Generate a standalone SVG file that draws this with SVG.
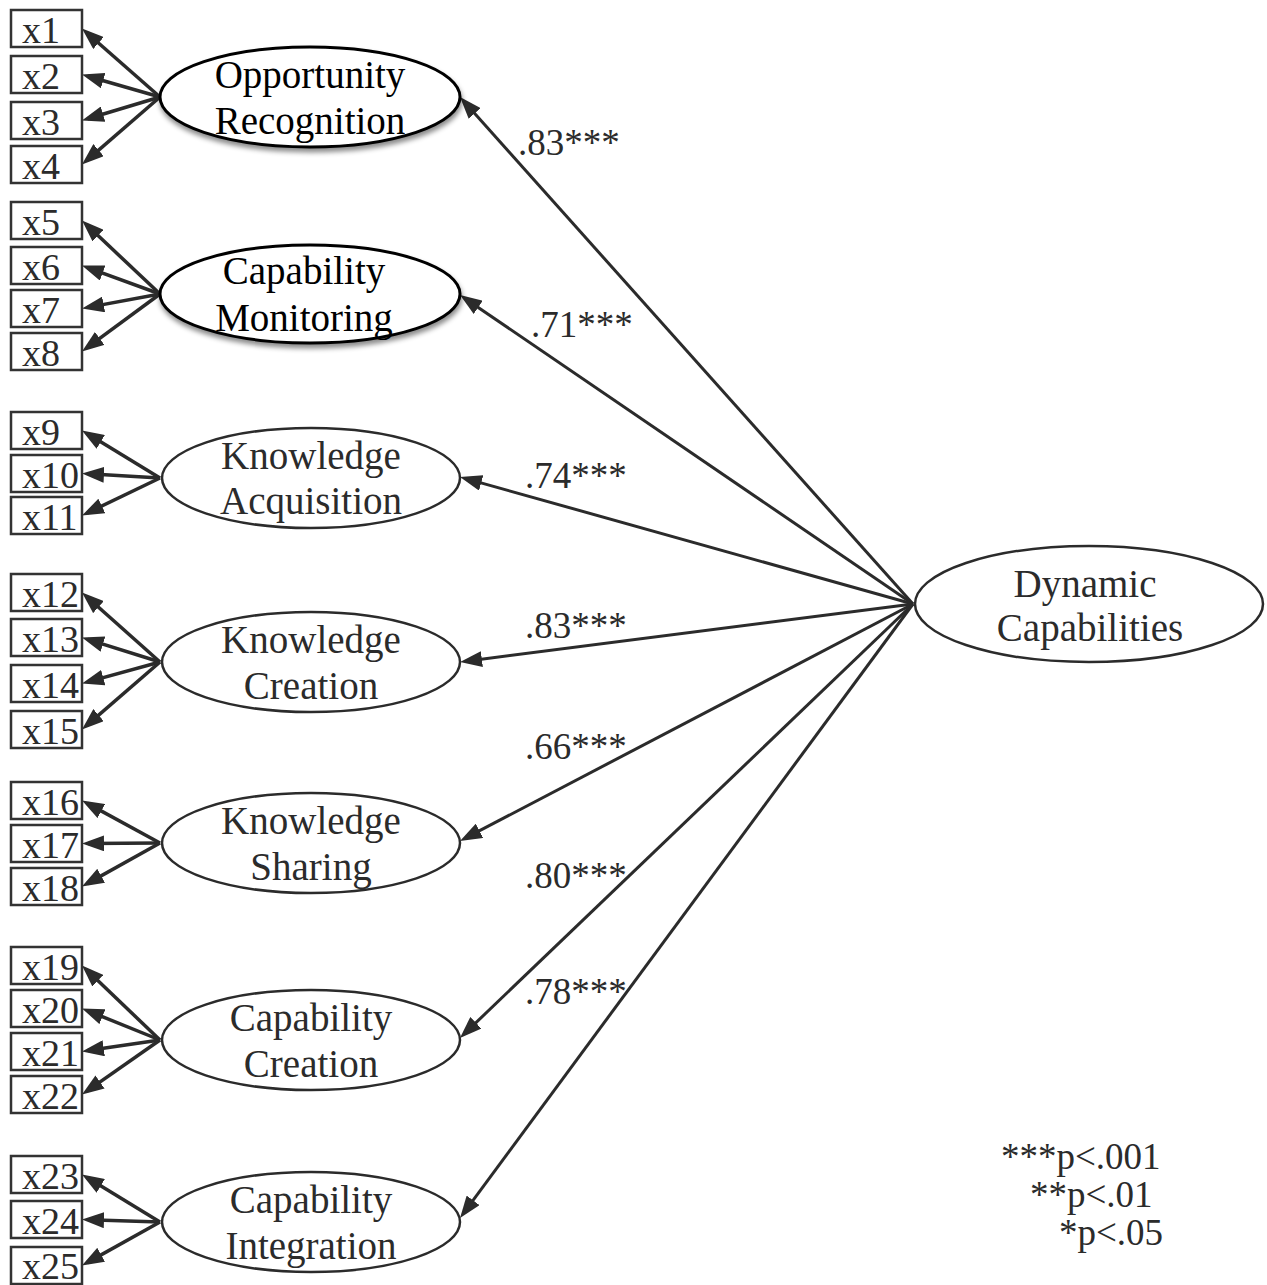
<svg xmlns="http://www.w3.org/2000/svg" width="1267" height="1285" viewBox="0 0 1267 1285">
<defs>
<marker id="ah" markerUnits="userSpaceOnUse" markerWidth="22" markerHeight="16" viewBox="0 0 22 16" refX="16" refY="8" orient="auto">
<path d="M0,0 L22,8 L0,16 z" fill="#2b2b2b"/>
</marker>
<filter id="sh" x="-10%" y="-20%" width="120%" height="150%">
<feDropShadow dx="1" dy="4" stdDeviation="2.5" flood-color="#000" flood-opacity="0.45"/>
</filter>
</defs>
<style>
text{font-family:"Liberation Serif","Times New Roman",serif;fill:#2b2b2b}
.box{fill:#fff;stroke:#333;stroke-width:2.5}
.xl{font-size:38px}
.lat{fill:#fff;stroke:#2b2b2b;stroke-width:2.5}
.latb{fill:#fff;stroke:#000;stroke-width:3;filter:url(#sh)}
.nl{font-size:39px;text-anchor:middle}
.nlb{fill:#000}
.ind{stroke:#2b2b2b;stroke-width:3.5;fill:none;marker-end:url(#ah)}
.dc{stroke:#2b2b2b;stroke-width:3;fill:none;marker-end:url(#ah)}
.lb{font-size:37px}
</style>
<rect width="1267" height="1285" fill="#fff"/>
<g id="connectors">
<line class="ind" x1="160" y1="97" x2="86.5" y2="32.5"/>
<line class="ind" x1="160" y1="97" x2="87.8" y2="76.2"/>
<line class="ind" x1="160" y1="97" x2="87.7" y2="118.8"/>
<line class="ind" x1="160" y1="97" x2="86.5" y2="160.6"/>
<line class="ind" x1="160" y1="294" x2="86.4" y2="224.6"/>
<line class="ind" x1="160" y1="294" x2="87.6" y2="267.6"/>
<line class="ind" x1="160" y1="294" x2="87.9" y2="307.4"/>
<line class="ind" x1="160" y1="294" x2="86.8" y2="347.9"/>
<line class="ind" x1="160" y1="478" x2="87.1" y2="433.6"/>
<line class="ind" x1="160" y1="478" x2="88.0" y2="473.8"/>
<line class="ind" x1="160" y1="478" x2="87.4" y2="512.9"/>
<line class="ind" x1="160" y1="662" x2="86.5" y2="596.5"/>
<line class="ind" x1="160" y1="662" x2="87.7" y2="639.3"/>
<line class="ind" x1="160" y1="662" x2="87.8" y2="681.9"/>
<line class="ind" x1="160" y1="662" x2="86.5" y2="725.6"/>
<line class="ind" x1="160" y1="843" x2="87.3" y2="803.4"/>
<line class="ind" x1="160" y1="843" x2="88" y2="843.5"/>
<line class="ind" x1="160" y1="843" x2="87.2" y2="883.6"/>
<line class="ind" x1="160" y1="1040" x2="86.3" y2="969.6"/>
<line class="ind" x1="160" y1="1040" x2="87.6" y2="1010.7"/>
<line class="ind" x1="160" y1="1040" x2="87.9" y2="1050.6"/>
<line class="ind" x1="160" y1="1040" x2="86.9" y2="1091.1"/>
<line class="ind" x1="160" y1="1222" x2="87.1" y2="1177.6"/>
<line class="ind" x1="160" y1="1222" x2="88" y2="1219.7"/>
<line class="ind" x1="160" y1="1222" x2="87.2" y2="1262.6"/>
<line class="dc" x1="913" y1="604" x2="464.0" y2="101.5"/>
<line class="dc" x1="913" y1="604" x2="465.0" y2="298.4"/>
<line class="dc" x1="913" y1="604" x2="465.8" y2="478.6"/>
<line class="dc" x1="913" y1="604" x2="466.0" y2="661.2"/>
<line class="dc" x1="913" y1="604" x2="465.3" y2="838.2"/>
<line class="dc" x1="913" y1="604" x2="464.3" y2="1033.8"/>
<line class="dc" x1="913" y1="604" x2="463.6" y2="1213.2"/>
<text class="lb" x="518" y="155">.83***</text>
<text class="lb" x="531" y="337">.71***</text>
<text class="lb" x="525" y="488">.74***</text>
<text class="lb" x="525" y="638">.83***</text>
<text class="lb" x="525" y="759">.66***</text>
<text class="lb" x="525" y="888">.80***</text>
<text class="lb" x="525" y="1004">.78***</text>
</g>
<g id="x1"><rect class="box" x="11" y="10" width="71" height="37"/><text class="xl" x="22" y="43">x1</text></g>
<g id="x2"><rect class="box" x="11" y="56" width="71" height="37"/><text class="xl" x="22" y="89">x2</text></g>
<g id="x3"><rect class="box" x="11" y="102" width="71" height="37"/><text class="xl" x="22" y="135">x3</text></g>
<g id="x4"><rect class="box" x="11" y="146" width="71" height="37"/><text class="xl" x="22" y="179">x4</text></g>
<g id="x5"><rect class="box" x="11" y="202" width="71" height="37"/><text class="xl" x="22" y="235">x5</text></g>
<g id="x6"><rect class="box" x="11" y="247" width="71" height="37"/><text class="xl" x="22" y="280">x6</text></g>
<g id="x7"><rect class="box" x="11" y="290" width="71" height="37"/><text class="xl" x="22" y="323">x7</text></g>
<g id="x8"><rect class="box" x="11" y="333" width="71" height="37"/><text class="xl" x="22" y="366">x8</text></g>
<g id="x9"><rect class="box" x="11" y="412" width="71" height="37"/><text class="xl" x="22" y="445">x9</text></g>
<g id="x10"><rect class="box" x="11" y="455" width="71" height="37"/><text class="xl" x="22" y="488">x10</text></g>
<g id="x11"><rect class="box" x="11" y="497" width="71" height="37"/><text class="xl" x="22" y="530">x11</text></g>
<g id="x12"><rect class="box" x="11" y="574" width="71" height="37"/><text class="xl" x="22" y="607">x12</text></g>
<g id="x13"><rect class="box" x="11" y="619" width="71" height="37"/><text class="xl" x="22" y="652">x13</text></g>
<g id="x14"><rect class="box" x="11" y="665" width="71" height="37"/><text class="xl" x="22" y="698">x14</text></g>
<g id="x15"><rect class="box" x="11" y="711" width="71" height="37"/><text class="xl" x="22" y="744">x15</text></g>
<g id="x16"><rect class="box" x="11" y="782" width="71" height="37"/><text class="xl" x="22" y="815">x16</text></g>
<g id="x17"><rect class="box" x="11" y="825" width="71" height="37"/><text class="xl" x="22" y="858">x17</text></g>
<g id="x18"><rect class="box" x="11" y="868" width="71" height="37"/><text class="xl" x="22" y="901">x18</text></g>
<g id="x19"><rect class="box" x="11" y="947" width="71" height="37"/><text class="xl" x="22" y="980">x19</text></g>
<g id="x20"><rect class="box" x="11" y="990" width="71" height="37"/><text class="xl" x="22" y="1023">x20</text></g>
<g id="x21"><rect class="box" x="11" y="1033" width="71" height="37"/><text class="xl" x="22" y="1066">x21</text></g>
<g id="x22"><rect class="box" x="11" y="1076" width="71" height="37"/><text class="xl" x="22" y="1109">x22</text></g>
<g id="x23"><rect class="box" x="11" y="1156" width="71" height="37"/><text class="xl" x="22" y="1189">x23</text></g>
<g id="x24"><rect class="box" x="11" y="1201" width="71" height="37"/><text class="xl" x="22" y="1234">x24</text></g>
<g id="x25"><rect class="box" x="11" y="1247" width="71" height="37"/><text class="xl" x="22" y="1279">x25</text></g>
<g id="opportunity-recognition"><ellipse class="latb" cx="310" cy="97" rx="150" ry="50"/><text class="nl nlb" x="310" y="88">Opportunity</text><text class="nl nlb" x="310" y="134">Recognition</text></g>
<g id="capability-monitoring"><ellipse class="latb" cx="310" cy="294" rx="150" ry="49"/><text class="nl nlb" x="304" y="284">Capability</text><text class="nl nlb" x="304" y="331">Monitoring</text></g>
<g id="knowledge-acquisition"><ellipse class="lat" cx="311" cy="478" rx="149" ry="50"/><text class="nl" x="311" y="469">Knowledge</text><text class="nl" x="311" y="514">Acquisition</text></g>
<g id="knowledge-creation"><ellipse class="lat" cx="311" cy="662" rx="149" ry="50"/><text class="nl" x="311" y="653">Knowledge</text><text class="nl" x="311" y="699">Creation</text></g>
<g id="knowledge-sharing"><ellipse class="lat" cx="311" cy="843" rx="149" ry="50"/><text class="nl" x="311" y="834">Knowledge</text><text class="nl" x="311" y="880">Sharing</text></g>
<g id="capability-creation"><ellipse class="lat" cx="311" cy="1040" rx="149" ry="50"/><text class="nl" x="311" y="1031">Capability</text><text class="nl" x="311" y="1077">Creation</text></g>
<g id="capability-integration"><ellipse class="lat" cx="311" cy="1222" rx="149" ry="50"/><text class="nl" x="311" y="1213">Capability</text><text class="nl" x="311" y="1259">Integration</text></g>
<g id="dynamic-capabilities"><ellipse class="lat" cx="1089" cy="604" rx="174" ry="58"/><text class="nl" x="1085" y="597">Dynamic</text><text class="nl" x="1090" y="641">Capabilities</text></g>
<g id="legend">
<text class="lb" x="1001" y="1169">***p&lt;.001</text>
<text class="lb" x="1030" y="1207">**p&lt;.01</text>
<text class="lb" x="1059" y="1245">*p&lt;.05</text>
</g>
</svg>
